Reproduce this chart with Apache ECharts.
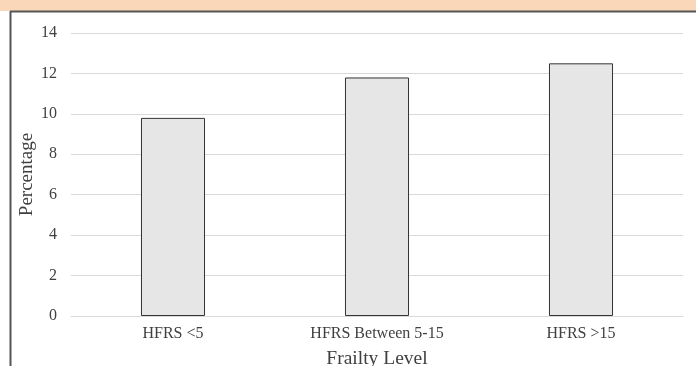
<!DOCTYPE html>
<html><head><meta charset="utf-8">
<script src="https://cdn.jsdelivr.net/npm/echarts@6/dist/echarts.min.js"></script>
<style>html,body{margin:0;padding:0;background:#fff}#c{width:696px;height:366px}</style>
</head><body><div id="c"></div>
<script>
const categories = ['HFRS <5', 'HFRS Between 5-15', 'HFRS >15'];
const percentages = [9.8, 11.8, 12.5];
const yTicks = { min: 0, max: 14, interval: 2 };
const fontFam = '"Liberation Serif", "Times New Roman", serif';
const chart = echarts.init(document.getElementById('c'));
chart.setOption({
  backgroundColor: '#fff',
  animation: false,
  graphic: [
    { type: 'rect', shape: { x: 0, y: 0, width: 696, height: 11 }, style: { fill: '#fad7b8' }, z: 10 },
    { type: 'line', shape: { x1: 10, y1: 11.5, x2: 696, y2: 11.5 }, style: { stroke: '#555', lineWidth: 2 }, z: 10 },
    { type: 'line', shape: { x1: 10.5, y1: 11, x2: 10.5, y2: 366 }, style: { stroke: '#555', lineWidth: 2 }, z: 10 }
  ],
  grid: { left: 71, right: 13, top: 33, bottom: 50, containLabel: false, outerBoundsMode: 'none' },
  xAxis: {
    type: 'category', data: categories,
    name: 'Frailty Level', nameLocation: 'middle', nameGap: 33, nameMoveOverlap: false,
    nameTextStyle: { fontFamily: fontFam, fontSize: 19.5, color: '#404040' },
    axisLine: { show: true, lineStyle: { color: '#d9d9d9', width: 1 } },
    axisTick: { show: false },
    axisLabel: { fontFamily: fontFam, fontSize: 16, color: '#404040', margin: 10 }
  },
  yAxis: {
    type: 'value', min: yTicks.min, max: yTicks.max, interval: yTicks.interval,
    name: 'Percentage', nameLocation: 'middle', nameGap: 34, nameRotate: 90, nameMoveOverlap: false,
    nameTextStyle: { fontFamily: fontFam, fontSize: 19, color: '#404040' },
    axisLine: { show: false }, axisTick: { show: false },
    axisLabel: { fontFamily: fontFam, fontSize: 16, color: '#404040', margin: 14 },
    splitLine: { lineStyle: { color: '#d9d9d9', width: 1 } }
  },
  series: [{
    type: 'bar', data: percentages, barWidth: '31.4%',
    itemStyle: { color: '#e6e6e6', borderColor: '#333', borderWidth: 1 }
  }]
});
</script></body></html>
